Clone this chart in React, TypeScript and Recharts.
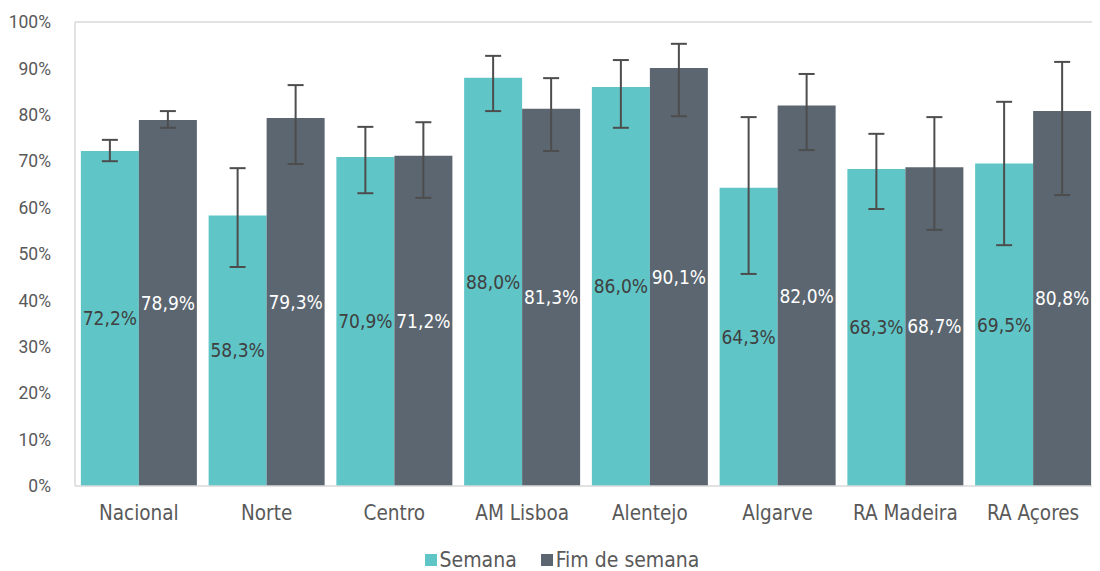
import { BarChart, Bar, XAxis, YAxis, ErrorBar, LabelList, Legend } from "recharts";

const regions = ["Nacional", "Norte", "Centro", "AM Lisboa", "Alentejo", "Algarve", "RA Madeira", "RA Açores"];
const semana = [72.2, 58.3, 70.9, 88.0, 86.0, 64.3, 68.3, 69.5];
const semanaLow = [70.0, 47.2, 63.1, 80.8, 77.2, 45.7, 59.7, 51.9];
const semanaHigh = [74.6, 68.5, 77.4, 92.7, 91.8, 79.5, 75.9, 82.8];
const fimSemana = [78.9, 79.3, 71.2, 81.3, 90.1, 82.0, 68.7, 80.8];
const fimLow = [77.2, 69.4, 62.1, 72.2, 79.7, 72.4, 55.2, 62.7];
const fimHigh = [80.8, 86.4, 78.4, 87.9, 95.3, 88.8, 79.5, 91.4];
const yTicks = [0, 10, 20, 30, 40, 50, 60, 70, 80, 90, 100];
const legendItems = [
  { label: "Semana", color: "#5fc5c7" },
  { label: "Fim de semana", color: "#5b6670" },
];

const data = regions.map((r, i) => ({
  region: r,
  semana: semana[i],
  semanaErr: [semana[i] - semanaLow[i], semanaHigh[i] - semana[i]],
  fim: fimSemana[i],
  fimErr: [fimSemana[i] - fimLow[i], fimHigh[i] - fimSemana[i]],
}));

const FONT = "'DejaVu Sans Condensed', 'DejaVu Sans', sans-serif";
const TICK_FONT = "Roboto, 'Noto Sans', sans-serif";
const FRAME = "#d9d9d9";
const fmt = (v: any) => `${Number(v).toFixed(1).replace(".", ",")}%`;

function LegendBox() {
  return (
    <div style={{ display: "flex", justifyContent: "center", gap: 24, fontSize: 21, lineHeight: "24px", color: "#595959", fontFamily: FONT, paddingLeft: 18 }}>
      {legendItems.map((it) => (
        <div key={it.label} style={{ display: "flex", alignItems: "center", gap: 3 }}>
          <span style={{ width: 12, height: 12, background: it.color, display: "inline-block" }} />
          <span>{it.label}</span>
        </div>
      ))}
    </div>
  );
}

export default function App() {
  return (
    <div style={{ fontFamily: FONT }}>
      <BarChart
        width={1092}
        height={564}
        data={data}
        margin={{ top: 13, right: 2, bottom: 0, left: 0 }}
        barCategoryGap="4.6%"
        barGap={0}
      >
        <XAxis
          dataKey="region"
          axisLine={{ stroke: FRAME, strokeWidth: 1.5 }}
          tickLine={false}
          tick={{ fill: "#595959", fontSize: 20.5, fontFamily: FONT }}
          tickMargin={13}
          height={62}
        />
        <XAxis xAxisId="top" dataKey="region" orientation="top" axisLine={{ stroke: FRAME, strokeWidth: 1.5 }} tick={false} tickLine={false} height={1} />
        <YAxis
          domain={[0, 100]}
          ticks={yTicks}
          tickFormatter={(v) => `${v}%`}
          axisLine={{ stroke: FRAME, strokeWidth: 1.5 }}
          tickLine={false}
          tick={{ fill: "#595959", fontSize: 17.5, fontFamily: TICK_FONT }}
          tickMargin={18}
          width={67}
        />
        <YAxis yAxisId="right" orientation="right" domain={[0, 100]} axisLine={{ stroke: FRAME, strokeWidth: 1.5 }} tick={false} tickLine={false} width={1} />
        <Legend verticalAlign="bottom" content={() => <LegendBox />} />
        <Bar dataKey="semana" name="Semana" fill="#5fc5c7" isAnimationActive={false}>
          <LabelList dataKey="semana" position="center" formatter={fmt} fill="#404040" fontSize={19} fontFamily={FONT} />
          <ErrorBar dataKey="semanaErr" width={8} stroke="#4d4d4d" strokeWidth={2} />
        </Bar>
        <Bar dataKey="fim" name="Fim de semana" fill="#5b6670" isAnimationActive={false}>
          <LabelList dataKey="fim" position="center" formatter={fmt} fill="#ffffff" fontSize={19} fontFamily={FONT} />
          <ErrorBar dataKey="fimErr" width={8} stroke="#4d4d4d" strokeWidth={2} />
        </Bar>
      </BarChart>
    </div>
  );
}
